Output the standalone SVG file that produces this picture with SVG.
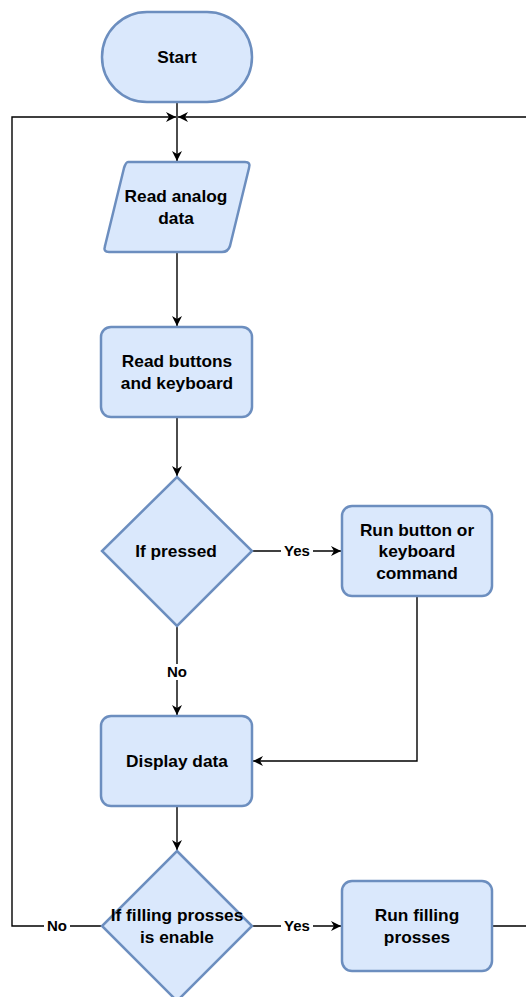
<svg xmlns="http://www.w3.org/2000/svg" width="526" height="997" viewBox="0 0 526 997">
<style>
.n{fill:#dae8fc;stroke:#6c8ebf;stroke-width:2.5}
.t{font-family:"Liberation Sans",Arial,sans-serif;font-size:17.3px;font-weight:bold;fill:#000;text-anchor:middle}
.l{font-family:"Liberation Sans",Arial,sans-serif;font-size:15px;font-weight:bold;fill:#000;text-anchor:middle}
.e{fill:none;stroke:#000;stroke-width:1.4}
.bg{fill:#fff}
</style>
<defs>
<marker id="a" viewBox="0 0 10 10" refX="10" refY="5" markerWidth="10" markerHeight="10" markerUnits="userSpaceOnUse" orient="auto">
<path d="M0,0 L10,5 L0,10 L3,5 Z" fill="#000"/>
</marker>
</defs>
<rect width="526" height="997" fill="#fff"/>
<g id="edges">
<path class="e" d="M177,102 V161" marker-end="url(#a)"/>
<path class="e" d="M177,252 V326" marker-end="url(#a)"/>
<path class="e" d="M177,417 V476" marker-end="url(#a)"/>
<path class="e" d="M252,551 H341" marker-end="url(#a)"/>
<path class="e" d="M177,627 V715" marker-end="url(#a)"/>
<path class="e" d="M417,596 V761 H253" marker-end="url(#a)"/>
<path class="e" d="M177,806 V850" marker-end="url(#a)"/>
<path class="e" d="M252,926 H341" marker-end="url(#a)"/>
<path class="e" d="M102,926 H12 V117 H176" marker-end="url(#a)"/>
<path class="e" d="M492,926 H540 V117 H178" marker-end="url(#a)"/>
<rect class="bg" x="281" y="543" width="32" height="16"/>
<text class="l" x="297" y="556">Yes</text>
<rect class="bg" x="164" y="664" width="26" height="16"/>
<text class="l" x="177" y="677">No</text>
<rect class="bg" x="281" y="918" width="32" height="16"/>
<text class="l" x="297" y="931">Yes</text>
<rect class="bg" x="44" y="918" width="26" height="16"/>
<text class="l" x="57" y="931">No</text>
</g>
<g id="start">
<rect class="n" x="102" y="12" width="150" height="90" rx="45"/>
<text class="t" x="177" y="63">Start</text>
</g>
<g id="read-analog">
<path class="n" d="M128,162 H245 Q251,162 249,168 L230,246 Q228,252 222,252 H109 Q103,252 105,246 L124,168 Q126,162 128,162 Z"/>
<text class="t" x="176" y="202">Read analog</text>
<text class="t" x="176" y="224">data</text>
</g>
<g id="read-buttons">
<rect class="n" x="101" y="327" width="151" height="90" rx="10"/>
<text class="t" x="177" y="367">Read buttons</text>
<text class="t" x="177" y="389">and keyboard</text>
</g>
<g id="if-pressed">
<path class="n" d="M177,477 L252,551 L177,626 L102,551 Z"/>
<text class="t" x="176" y="557">If pressed</text>
</g>
<g id="run-command">
<rect class="n" x="342" y="506" width="150" height="90" rx="10"/>
<text class="t" x="417" y="536">Run button or</text>
<text class="t" x="417" y="557">keyboard</text>
<text class="t" x="417" y="579">command</text>
</g>
<g id="display">
<rect class="n" x="101" y="716" width="151" height="90" rx="10"/>
<text class="t" x="177" y="767">Display data</text>
</g>
<g id="if-filling">
<path class="n" d="M177,851 L252,926 L177,1001 L102,926 Z"/>
<text class="t" x="177" y="921">If filling prosses</text>
<text class="t" x="177" y="943">is enable</text>
</g>
<g id="run-filling">
<rect class="n" x="342" y="881" width="150" height="90" rx="10"/>
<text class="t" x="417" y="921">Run filling</text>
<text class="t" x="417" y="943">prosses</text>
</g>
</svg>
